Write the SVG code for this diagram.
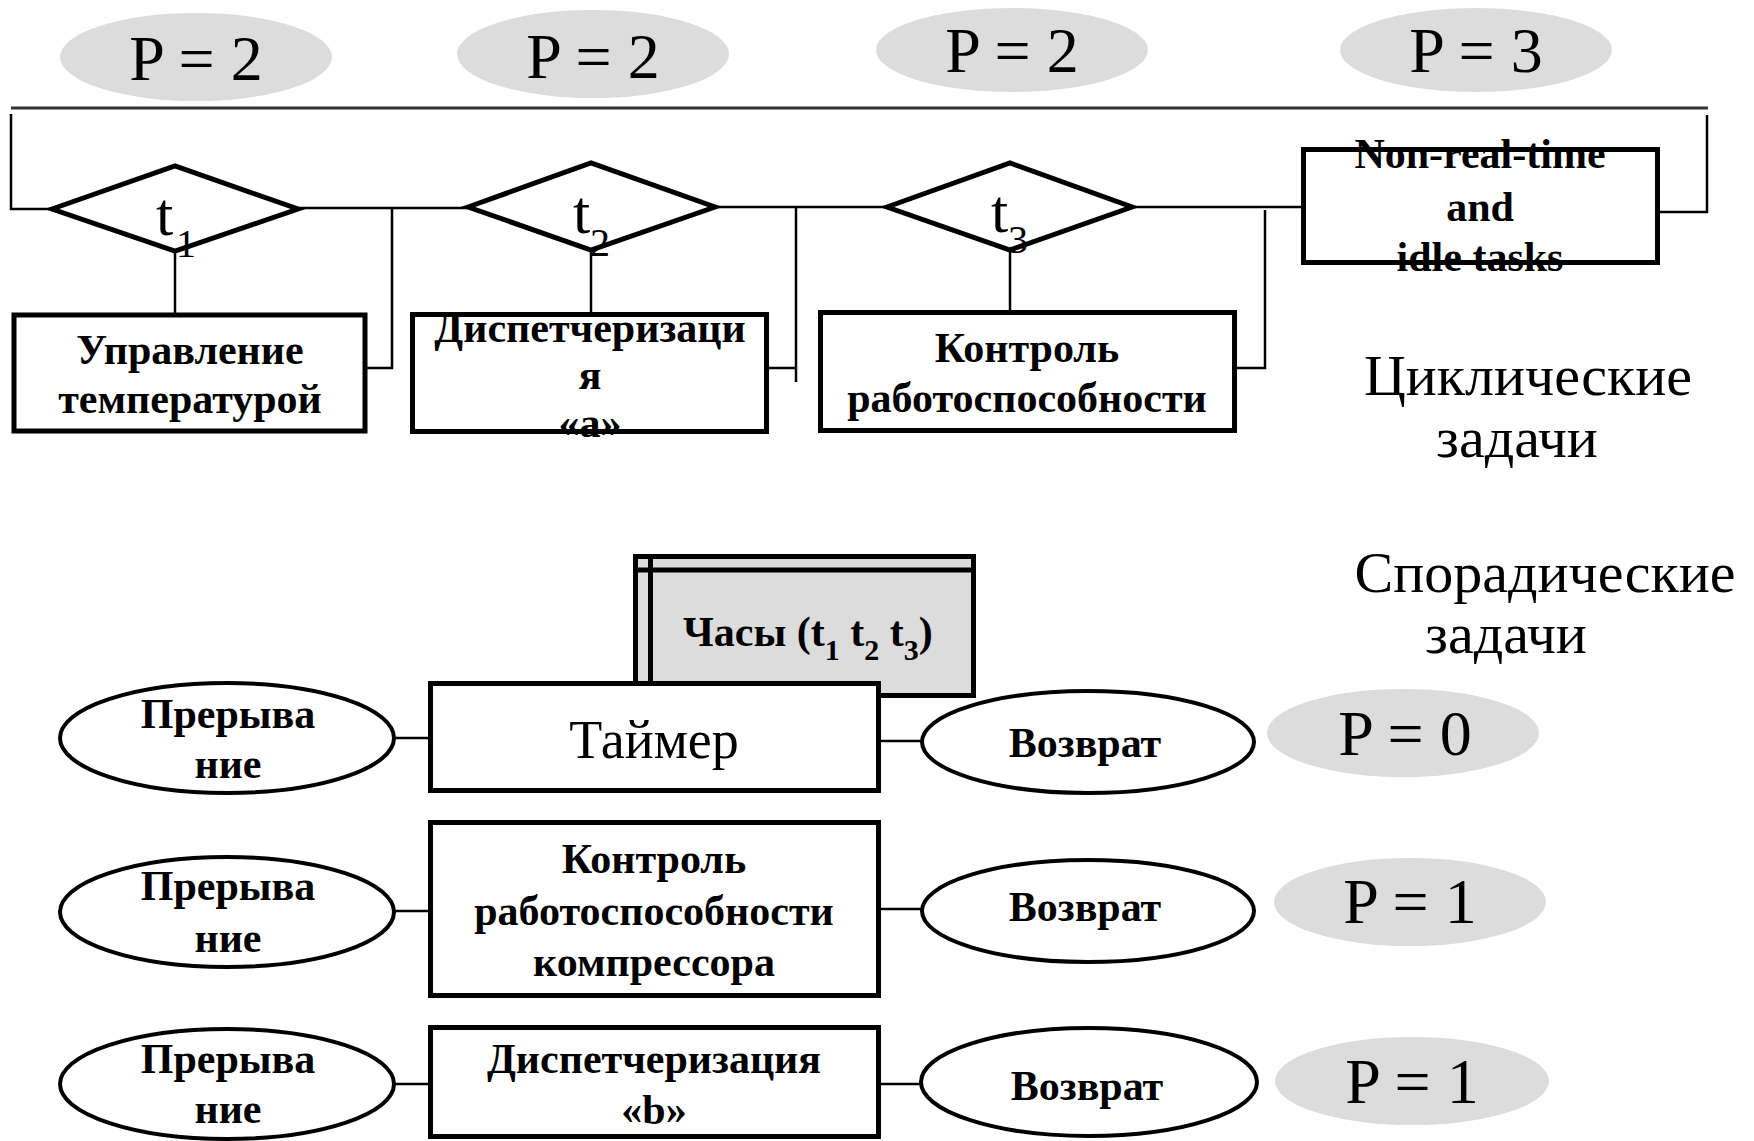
<svg xmlns="http://www.w3.org/2000/svg" width="1754" height="1141" viewBox="0 0 1754 1141">
<style>
text{font-family:"Liberation Serif","Times New Roman",serif;fill:#000}
.b{font-weight:bold;font-size:42px;text-anchor:middle}
.r{font-size:58px;text-anchor:middle}
.p{font-size:64px;text-anchor:middle}
.t{font-size:62px}
.s{font-size:40px}
.box{fill:#fff;stroke:#000;stroke-width:5}
.dia{fill:#fff;stroke:#000;stroke-width:5;stroke-linejoin:miter}
.ell{fill:#fff;stroke:#000;stroke-width:4}
.pr{fill:#dcdcdc;stroke:none}
.ln{fill:none;stroke:#000;stroke-width:2.5}
.top{fill:none;stroke:#333;stroke-width:3}
</style>
<rect width="1754" height="1141" fill="#fff"/>
<g id="connectors">
<line class="top" x1="11" y1="108" x2="1708" y2="108"/>
<polyline class="ln" points="11,114 11,209 52,209"/>
<polyline class="ln" points="1707,115 1707,212 1658,212"/>
<line class="ln" x1="298" y1="208" x2="468" y2="208"/>
<polyline class="ln" points="392,208 392,368 367,368"/>
<line class="ln" x1="715" y1="207" x2="887" y2="207"/>
<line class="ln" x1="796" y1="207" x2="796" y2="382"/>
<line class="ln" x1="768" y1="368" x2="796" y2="368"/>
<line class="ln" x1="1132" y1="207" x2="1303" y2="207"/>
<polyline class="ln" points="1265,210 1265,368 1235,368"/>
<line class="ln" x1="175" y1="252" x2="175" y2="313"/>
<line class="ln" x1="591" y1="250" x2="591" y2="313"/>
<line class="ln" x1="1010" y1="250" x2="1010" y2="311"/>
<line class="ln" x1="394" y1="738" x2="430" y2="738"/>
<line class="ln" x1="394" y1="911" x2="430" y2="911"/>
<line class="ln" x1="394" y1="1084" x2="430" y2="1084"/>
<line class="ln" x1="879" y1="741" x2="921" y2="741"/>
<line class="ln" x1="879" y1="909" x2="921" y2="909"/>
<line class="ln" x1="879" y1="1084" x2="922" y2="1084"/>
</g>
<g id="p1"><ellipse class="pr" cx="196" cy="57" rx="136" ry="44"/><text class="p" x="196" y="80">P = 2</text></g>
<g id="p2"><ellipse class="pr" cx="593" cy="54" rx="136" ry="44"/><text class="p" x="593" y="78">P = 2</text></g>
<g id="p3"><ellipse class="pr" cx="1012" cy="50" rx="136" ry="42"/><text class="p" x="1012" y="72">P = 2</text></g>
<g id="p4"><ellipse class="pr" cx="1476" cy="50" rx="136" ry="42"/><text class="p" x="1476" y="72">P = 3</text></g>
<g id="t1"><polygon class="dia" points="52,209 175,166 298,209 175,251"/><text class="t" x="156" y="235">t<tspan class="s" x="176" y="257">1</tspan></text></g>
<g id="t2"><polygon class="dia" points="468,207 591,163 715,207 591,250"/><text class="t" x="573" y="233">t<tspan class="s" x="590" y="256">2</tspan></text></g>
<g id="t3"><polygon class="dia" points="887,207 1010,163 1132,207 1010,250"/><text class="t" x="991" y="232">t<tspan class="s" x="1008" y="253">3</tspan></text></g>
<g id="box1"><rect class="box" x="14" y="315" width="351" height="116"/><text class="b" x="190" y="364">Управление</text><text class="b" x="190" y="413">температурой</text></g>
<g id="box2"><rect class="box" x="412.5" y="314.5" width="354" height="117"/><text class="b" x="590" y="342">Диспетчеризаци</text><text class="b" x="590" y="389">я</text><text class="b" x="590" y="437">«а»</text></g>
<g id="box3"><rect class="box" x="820.5" y="312.5" width="414" height="118"/><text class="b" x="1027" y="362">Контроль</text><text class="b" x="1027" y="412">работоспособности</text></g>
<g id="box4"><rect class="box" x="1303.5" y="149.5" width="354" height="113"/><text class="b" x="1480" y="168">Non-real-time</text><text class="b" x="1480" y="221">and</text><text class="b" x="1480" y="271">idle tasks</text></g>
<g id="cyclic"><text class="r" x="1528" y="395">Циклические</text><text class="r" x="1517" y="457">задачи</text></g>
<g id="sporadic"><text class="r" x="1545" y="592">Спорадические</text><text class="r" x="1506" y="653">задачи</text></g>
<g id="clock"><rect x="635.5" y="556.5" width="338" height="139" fill="#dcdcdc" stroke="#000" stroke-width="5"/><line x1="650.5" y1="556" x2="650.5" y2="696" stroke="#000" stroke-width="5"/><line x1="636" y1="570" x2="974" y2="570" stroke="#000" stroke-width="5"/><text x="683" y="646" style="font-weight:bold;font-size:42px">Часы (t<tspan style="font-size:30px" dy="14">1</tspan><tspan dy="-14"> t</tspan><tspan style="font-size:30px" dy="14">2</tspan><tspan dy="-14"> t</tspan><tspan style="font-size:30px" dy="14">3</tspan><tspan dy="-14">)</tspan></text></g>
<g id="timer"><rect class="box" x="430.5" y="683.5" width="448" height="107"/><text x="654" y="758" style="font-size:54px;text-anchor:middle">Таймер</text></g>
<g id="compressor"><rect class="box" x="430.5" y="822.5" width="448" height="173"/><text class="b" x="654" y="873">Контроль</text><text class="b" x="654" y="925">работоспособности</text><text class="b" x="654" y="976">компрессора</text></g>
<g id="dispb"><rect class="box" x="430.5" y="1027.5" width="448" height="109"/><text class="b" x="654" y="1073">Диспетчеризация</text><text class="b" x="654" y="1124">«b»</text></g>
<g id="int1"><ellipse class="ell" cx="227" cy="738" rx="167" ry="55"/><text class="b" x="228" y="728">Прерыва</text><text class="b" x="228" y="778">ние</text></g>
<g id="int2"><ellipse class="ell" cx="227" cy="912" rx="167" ry="55"/><text class="b" x="228" y="900">Прерыва</text><text class="b" x="228" y="952">ние</text></g>
<g id="int3"><ellipse class="ell" cx="227" cy="1084" rx="167" ry="55"/><text class="b" x="228" y="1073">Прерыва</text><text class="b" x="228" y="1123">ние</text></g>
<g id="ret1"><ellipse class="ell" cx="1088" cy="742" rx="166" ry="51"/><text class="b" x="1085" y="757">Возврат</text></g>
<g id="ret2"><ellipse class="ell" cx="1088" cy="911" rx="166" ry="51"/><text class="b" x="1085" y="921">Возврат</text></g>
<g id="ret3"><ellipse class="ell" cx="1089" cy="1082" rx="168" ry="54"/><text class="b" x="1087" y="1100">Возврат</text></g>
<g id="pr0"><ellipse class="pr" cx="1403" cy="733" rx="136" ry="44"/><text class="p" x="1405" y="755">P = 0</text></g>
<g id="pr1"><ellipse class="pr" cx="1410" cy="902" rx="136" ry="44"/><text class="p" x="1410" y="923">P = 1</text></g>
<g id="pr2"><ellipse class="pr" cx="1412" cy="1081" rx="137" ry="44"/><text class="p" x="1412" y="1103">P = 1</text></g>
</svg>
